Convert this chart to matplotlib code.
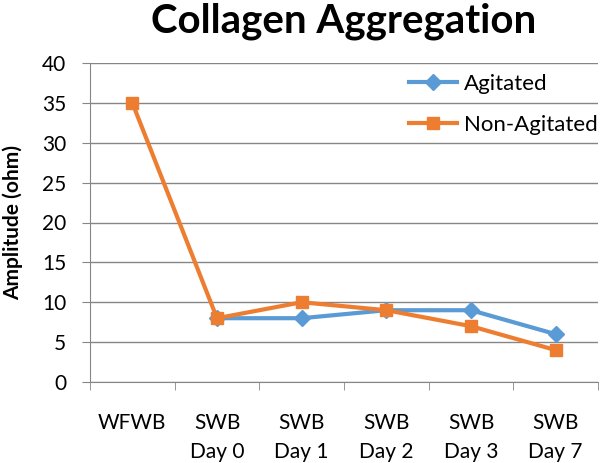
import matplotlib
matplotlib.use("Agg")
import matplotlib.pyplot as plt
import numpy as np

categories = ["WFWB", "SWB\nDay 0", "SWB\nDay 1", "SWB\nDay 2", "SWB\nDay 3", "SWB\nDay 7"]
agitated = [np.nan, 8, 8, 9, 9, 6]
non_agitated = [35, 8, 10, 9, 7, 4]
yticks = [0, 5, 10, 15, 20, 25, 30, 35, 40]

plt.rcParams['font.family'] = ['Lato', 'DejaVu Sans']

fig = plt.figure(figsize=(6.01, 4.63), dpi=100)
ax = fig.add_axes([90/601, 1-382/463, 508/601, (382-63)/463])

x = np.arange(len(categories))
ax.plot(x, agitated, color="#5B9BD5", lw=3, marker="D", ms=8, label="Agitated", zorder=3)
ax.plot(x, non_agitated, color="#ED7D31", lw=3, marker="s", ms=9, label="Non-Agitated", zorder=4)

ax.set_xlim(-0.5, len(categories) - 0.5)
ax.set_ylim(0, 40)
ax.set_yticks(yticks)
ax.set_yticklabels([str(v) for v in yticks], fontsize=15)
ax.set_xticks(x)
ax.set_xticklabels(categories, fontsize=15, linespacing=1.6)
ax.tick_params(axis='x', length=0, pad=22)
ax.set_xticks(np.arange(len(categories) + 1) - 0.5, minor=True)
ax.tick_params(axis='x', which='minor', length=6, color="#868686")
ax.tick_params(axis='y', length=6, color="#868686", pad=11)

ax.grid(axis='y', color="#868686", lw=1)
ax.set_axisbelow(True)
for s in ['top', 'right']:
    ax.spines[s].set_visible(False)
for s in ['left', 'bottom']:
    ax.spines[s].set_color("#868686")

ax.set_ylabel("Amplitude (ohm)", fontsize=15, fontweight='bold', labelpad=14)
ax.set_title("Collagen Aggregation", fontsize=29, fontweight='bold', pad=22)

ax.legend(loc='upper right', bbox_to_anchor=(1.039, 1.028), frameon=False, fontsize=16,
          handlelength=2.2, labelspacing=0.95, handletextpad=0.3)

fig.savefig("out.png", dpi=100)
